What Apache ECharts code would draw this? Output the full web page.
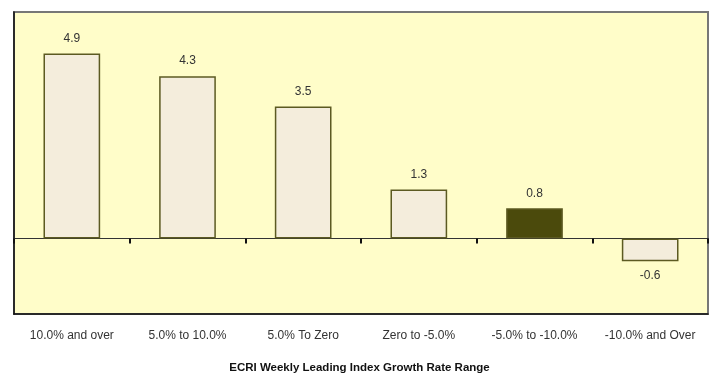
<!DOCTYPE html>
<html lang="en">
  <head>
    <meta charset="UTF-8" />
    <title>ECRI WLI growth ranges</title>
    <style>
      html, body { margin: 0; padding: 0; background: #fff; }
    </style>
  </head>
  <body>
    <div id="main" style="width: 719px; height: 375px"></div>
    <script src="https://cdn.jsdelivr.net/npm/echarts@6.0.0/dist/echarts.min.js"></script>
    <script>
      const categories = [
        '10.0% and over',
        '5.0% to 10.0%',
        '5.0% To Zero',
        'Zero to -5.0%',
        '-5.0% to -10.0%',
        '-10.0% and Over'
      ]
      const values = [4.9, 4.3, 3.5, 1.3, 0.8, -0.6]
      const highlightIndex = 4 // the dark bar

      const myChart = echarts.init(document.getElementById('main'), null, {
        renderer: 'canvas'
      })

      const font = 'Liberation Sans, Arial, sans-serif'

      const option = {
        animation: false,
        title: {
          text: 'ECRI Weekly Leading Index Growth Rate Range',
          left: 'center',
          top: 357,
          textStyle: {
            fontFamily: font,
            fontSize: 11.5,
            fontWeight: 'bold',
            color: '#111'
          }
        },
        grid: {
          left: 14,
          right: 11,
          top: 12,
          bottom: 61,
          outerBoundsMode: 'none',
          show: true,
          backgroundColor: '#fffdc9',
          borderColor: '#777',
          borderWidth: 2
        },
        xAxis: [
          {
            // zero line with the range dividers
            type: 'category',
            data: categories,
            axisLine: { show: true, onZero: true, lineStyle: { color: '#333', width: 1.2 } },
            axisTick: { show: true, interval: 0, length: 5, lineStyle: { color: '#111', width: 2 } },
            axisLabel: { show: false }
          },
          {
            // bottom frame with category labels
            type: 'category',
            position: 'bottom',
            data: categories,
            axisLine: { show: true, onZero: false, lineStyle: { color: '#111', width: 1.5 } },
            axisTick: { show: false },
            axisLabel: {
              show: true,
              interval: 0,
              margin: 16,
              fontFamily: font,
              fontSize: 12,
              color: '#333'
            }
          }
        ],
        yAxis: {
          type: 'value',
          min: -2,
          max: 6,
          axisLine: { show: true, onZero: false, lineStyle: { color: '#111', width: 1.5 } },
          axisTick: { show: false },
          axisLabel: { show: false },
          splitLine: { show: false }
        },
        series: [
          {
            type: 'bar',
            barWidth: '49%',
            data: values.map((v, i) => ({
              value: v,
              itemStyle: i === highlightIndex ? { color: '#4b4a0c' } : {},
              label: { position: v < 0 ? 'bottom' : 'top' }
            })),
            itemStyle: {
              color: '#f4eddc',
              borderColor: '#5c5a22',
              borderWidth: 1.5
            },
            label: {
              show: true,
              distance: 9,
              fontFamily: font,
              fontSize: 12,
              color: '#333'
            }
          }
        ]
      }

      myChart.setOption(option)
    </script>
  </body>
</html>
